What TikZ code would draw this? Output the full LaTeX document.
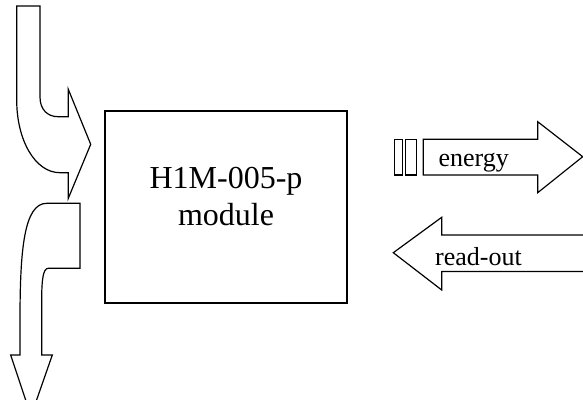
\documentclass[tikz,border=0pt]{standalone}
\usepackage{fontspec}
\setmainfont{Liberation Serif}
\begin{document}
\begin{tikzpicture}[x=1pt,y=-1pt,
  outline/.style={draw=black, line width=1.2pt, line join=miter, fill=white},
  bigtext/.style={font=\fontsize{32}{37}\selectfont, inner sep=0pt},
  smalltext/.style={font=\fontsize{26}{30}\selectfont, inner sep=0pt}]
\useasboundingbox (0,0) rectangle (583,399);
% module box
\node[outline, minimum width=242pt, minimum height=192pt, inner sep=0pt] (module) at (226,207) {};
\node[bigtext, anchor=base] (title1) at (226,188) {H1M-005-p};
\node[bigtext, anchor=base] (title2) at (226,225) {module};
% energy arrow
\draw[outline] (394.3,139.3) rectangle (402.3,175);
\draw[outline] (405.7,139.3) rectangle (416.7,175);
\draw[outline] (423.3,139.3) -- (537.7,139.3) -- (537.7,121.7) -- (582.7,156.7) -- (537.7,192.7) -- (537.7,175) -- (423.3,175) -- cycle;
\begin{scope}
  \clip (423.3,139.3) rectangle (537.7,171);
  \node[smalltext, anchor=base west] (energy) at (438.3,166.7) {energy};
\end{scope}
% read-out arrow
\draw[outline] (590,235) -- (441.7,235) -- (441.7,217.3) -- (393.3,252.7) -- (441.7,290) -- (441.7,271.5) -- (590,271.5);
\node[smalltext, anchor=base west] (readout) at (435,265.5) {read-out};
% incoming arrow (top left)
\draw[outline] (40,6) -- (40,97) .. controls (40,110) and (48,116.7) .. (58,116.7) -- (68.3,116.7) -- (68.3,89.3) -- (90.7,144.3) -- (68.3,198.3) -- (68.3,172.7) -- (60,172.7) .. controls (35,172.7) and (16.7,140) .. (16.7,100) -- (16.7,6) -- cycle;
% outgoing arrow (bottom left)
\draw[outline] (46.7,203.3) -- (80,203.3) -- (80,268.3) -- (48.3,268.3) .. controls (43,268.3) and (41.7,280) .. (41.7,300) -- (41.7,355) -- (52.3,355) -- (31,416) -- (10.7,355) -- (20,355) -- (20,320) .. controls (20,250) and (24,203.3) .. (46.7,203.3) -- cycle;
\end{tikzpicture}
\end{document}
